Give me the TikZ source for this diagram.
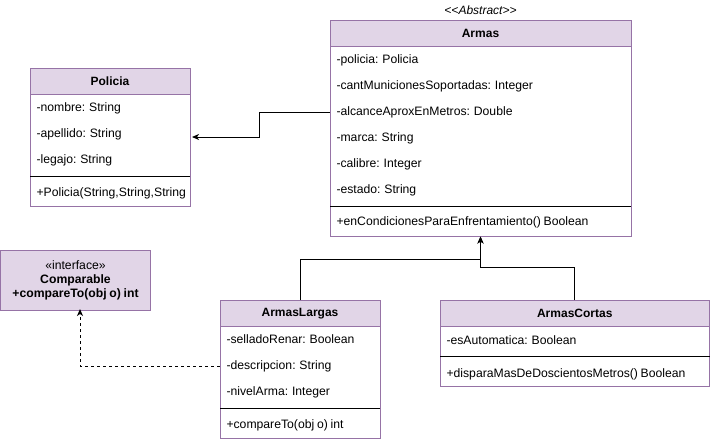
\documentclass[tikz,border=0pt]{standalone}
\usepackage{fontspec}
\setmainfont{Liberation Sans}[WordSpace=0.8]
\usetikzlibrary{arrows.meta}
\definecolor{umlhead}{HTML}{E1D5E7}
\definecolor{umlline}{HTML}{9673A6}

\begin{document}
\begin{tikzpicture}[x=1pt,y=-1pt,line width=1pt,
	every node/.style={font=\fontsize{12.2}{14}\selectfont},
	classbox/.style={draw=umlline,fill=white,inner sep=0pt},
	classhead/.style={draw=umlline,fill=umlhead,inner sep=0pt,font=\fontsize{12}{14}\selectfont\bfseries},
	member/.style={anchor=west,inner sep=0pt},
	tip/.style={-{Stealth[length=7pt,width=6pt,inset=2pt]}}]

\useasboundingbox (0,0) rectangle (711,442);

% Armas
\node[classbox, minimum width=301pt, minimum height=216pt] (armas) at (480.5,128) {};
\node[classhead, minimum width=301pt, minimum height=26pt] (armasHead) at (480.5,33) {Armas};
\node[font=\fontsize{12}{14}\selectfont\itshape] (armasStereo) at (480.5,10.5) {<\kern0pt<Abstract>\kern0pt>};
\node[member] (policiaAttr) at (336,60.5) {-policia: Policia};
\node[member] (cantMuniciones) at (336,86.5) {-cantMunicionesSoportadas: Integer};
\node[member] (alcance) at (336,112) {-alcanceAproxEnMetros: Double};
\node[member] (marca) at (336,138) {-marca: String};
\node[member] (calibre) at (336,164) {-calibre: Integer};
\node[member] (estado) at (336,190) {-estado: String};
\draw (330,206) -- (631,206);
\node[member] (enCondiciones) at (336,222.5) {+enCondicionesParaEnfrentamiento() Boolean};

% Policia
\node[classbox, minimum width=160pt, minimum height=138pt] (policia) at (110,137) {};
\node[classhead, minimum width=160pt, minimum height=26pt] (policiaHead) at (110,81) {Policia};
\node[member] (nombre) at (36,108) {-nombre: String};
\node[member] (apellido) at (36,134.5) {-apellido: String};
\node[member] (legajo) at (36,160.5) {-legajo: String};
\draw (30,176) -- (190,176);
\node[member] (policiaCtor) at (36,193.5) {+Policia(String,String,String};

% Comparable
\node[draw=umlline, fill=umlhead, minimum width=150pt, minimum height=60pt, align=center, inner sep=0pt] (comparable) at (75.5,280)
	{«interface»\\ \textbf{Comparable}\\ \textbf{+compareTo(obj o) int}};

% ArmasLargas
\node[classbox, minimum width=160pt, minimum height=138pt] (largas) at (300,369.5) {};
\node[classhead, minimum width=160pt, minimum height=26pt] (largasHead) at (300,313.5) {ArmasLargas};
\node[member] (sellado) at (226,339.5) {-selladoRenar: Boolean};
\node[member] (descripcion) at (226,366) {-descripcion: String};
\node[member] (nivelArma) at (226,392) {-nivelArma: Integer};
\draw (220,408) -- (380,408);
\node[member] (largasCompare) at (226,425.5) {+compareTo(obj o) int};

% ArmasCortas
\node[classbox, minimum width=269.5pt, minimum height=85.5pt] (cortas) at (574.75,343.25) {};
\node[classhead, minimum width=269.5pt, minimum height=26pt] (cortasHead) at (574.75,313.5) {ArmasCortas};
\node[member] (esAutomatica) at (446,340.5) {-esAutomatica: Boolean};
\draw (440,356) -- (709.5,356);
\node[member] (dispara) at (446,374) {+disparaMasDeDoscientosMetros() Boolean};

% connectors
\draw[tip] (armas.west |- alcance) -- ++(-70,0) |- ([xshift=1.5pt]policia.east);
\draw[tip] (largasHead.north) -- ++(0,-40.5) -| (armas.south);
\draw[tip] (cortasHead.north) -- ++(0,-32.5) -| (armas.south);
\draw[tip, dash pattern=on 3pt off 3pt] (largas.west |- descripcion) -| ([xshift=4.5pt,yshift=1.5pt]comparable.south);

\end{tikzpicture}
\end{document}
